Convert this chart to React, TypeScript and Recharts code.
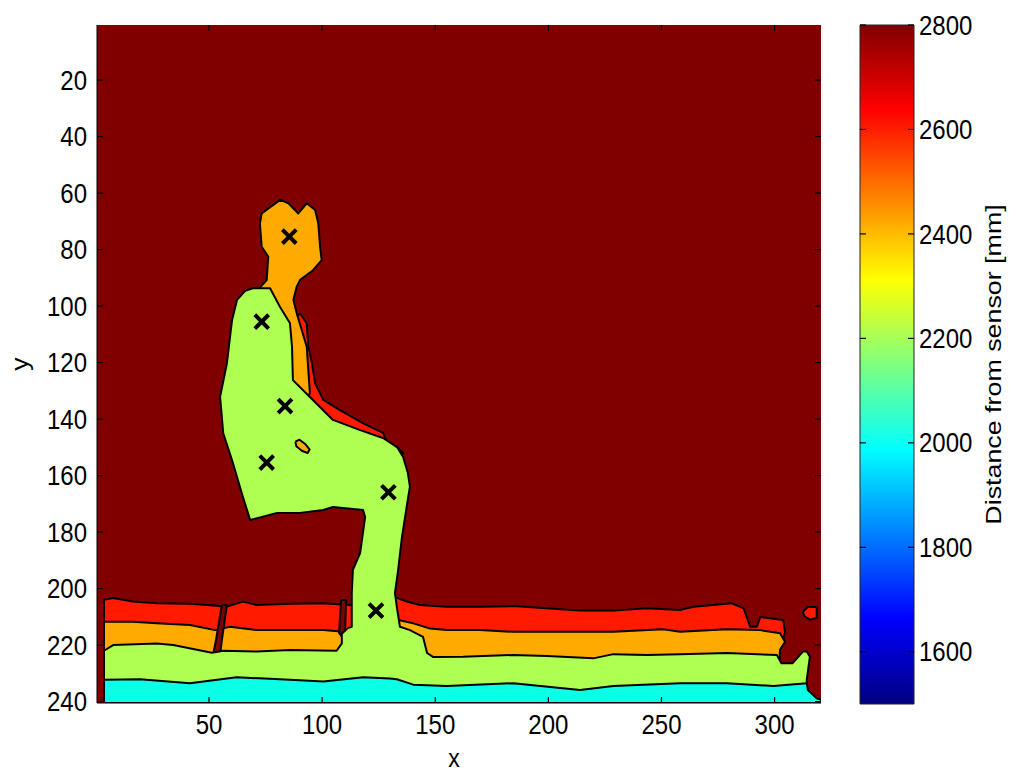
import React from 'react';
import { ComposedChart, Scatter, XAxis, YAxis, CartesianGrid, BarChart, Bar } from 'recharts';

type Pt = [number, number];

const FONT = '"Liberation Sans", Arial, Helvetica, sans-serif';

const DARK = '#800000';
const RED = '#ff1a00';
const ORANGE = '#ffaa00';
const GREEN = '#aeff51';
const CYAN = '#0affe6';

const xTicks = [50, 100, 150, 200, 250, 300];
const yTicks = [20, 40, 60, 80, 100, 120, 140, 160, 180, 200, 220, 240];
const xDomain = [0.5, 320.5];
const yDomain = [0.5, 240.5];

const cbTicks = [1600, 1800, 2000, 2200, 2400, 2600, 2800];
const cbRange = [1500, 2800];
const cbData = [{ name: 'depth', span: [1500, 2800] }];

// floor bands: top contour of each depth level, filled down to the frame bottom
const bandRed: Pt[] = [
  [3.6, 240.5], [3.6, 204.0], [7.6, 203.3], [16.4, 204.6], [26.9, 205.2], [41.6, 205.4],
  [54.9, 206.2], [57.8, 206.4], [65.0, 204.6], [71.1, 205.8], [85.8, 205.4], [100.5, 205.2],
  [112.3, 205.8], [133.0, 203.3], [137.4, 204.6], [143.3, 205.8], [155.1, 206.4], [169.8, 206.4],
  [184.5, 206.2], [199.3, 207.0], [214.0, 207.8], [228.7, 207.8], [243.5, 207.0], [258.2, 207.6],
  [264.1, 206.4], [281.1, 205.2], [286.3, 207.0], [289.2, 213.5], [292.2, 213.5], [293.6, 210.1],
  [303.8, 211.1], [304.6, 215.4], [302.4, 221.7], [301.0, 240.5],
];

const bandOrange: Pt[] = [
  [3.6, 240.5], [3.6, 211.7], [16.4, 211.7], [26.9, 212.3], [41.6, 212.9], [52.7, 214.7],
  [59.3, 213.5], [71.1, 214.7], [85.8, 214.7], [100.5, 214.7], [109.4, 215.3], [133.7, 211.1],
  [140.3, 212.3], [147.7, 214.1], [155.1, 214.7], [169.8, 214.7], [184.5, 215.3], [199.3, 215.3],
  [214.0, 215.3], [228.7, 215.3], [250.8, 214.4], [258.2, 215.3], [278.9, 214.4], [293.6, 214.7],
  [302.4, 215.8], [304.6, 218.8], [302.4, 221.7], [301.0, 240.5],
];

// chair legs cutting through the floor bands
const chairLegA: Pt[] = [[55.7, 205.8], [57.9, 205.8], [55.7, 218.2], [54.9, 223.5], [51.8, 223.5], [53.1, 218.2]];
const chairLegB: Pt[] = [[108.4, 204.0], [110.6, 204.0], [110.1, 215.7], [108.8, 217.1], [107.5, 215.7]];

// person: back (furthest), head/neck, then body + legs joined to the floor level
const backRed: Pt[] = [
  [90.2, 102.6], [93.2, 106.1], [93.9, 114.4], [95.4, 119.7], [96.9, 127.3], [100.5, 133.2],
  [107.9, 136.8], [118.2, 141.5], [127.1, 145.0], [128.5, 148.6], [133.0, 149.8], [135.9, 152.1],
  [130.0, 156.0], [110.0, 150.0], [92.0, 136.0], [88.0, 110.0], [88.5, 104.0],
];

const headOrange: Pt[] = [
  [73.3, 67.2], [81.4, 62.4], [85.1, 63.6], [89.5, 67.2], [93.2, 63.6], [96.9, 66.0], [98.3, 70.7],
  [99.1, 79.0], [99.8, 83.7], [96.1, 87.2], [90.2, 90.8], [88.8, 93.1], [87.3, 97.8], [88.8, 102.6],
  [93.2, 114.4], [94.6, 130.9], [90.0, 135.0], [80.0, 120.0], [70.0, 96.0], [72.9, 93.1],
  [75.5, 90.8], [76.2, 82.5], [73.3, 79.0], [72.5, 70.7],
];

const bodyGreen: Pt[] = [
  [3.6, 240.5], [3.6, 222.0], [7.6, 220.0], [26.9, 219.4], [34.2, 220.0], [51.3, 222.7],
  [56.3, 222.0], [71.1, 222.3], [85.8, 221.7], [106.4, 222.0], [108.7, 219.4], [108.7, 216.0],
  [111.4, 214.0], [113.1, 213.5], [113.1, 201.6], [113.6, 193.4], [116.8, 187.4], [119.0, 174.7],
  [118.1, 172.2], [104.8, 171.1], [100.5, 172.2], [90.2, 173.2], [80.1, 173.2], [68.2, 175.7],
  [65.0, 167.6], [60.6, 155.6], [56.3, 145.0], [54.9, 132.1], [57.9, 120.3], [60.2, 104.9],
  [62.4, 97.8], [66.0, 94.6], [69.4, 93.7], [77.0, 93.7], [81.4, 100.3], [85.8, 106.1], [86.7, 114.5],
  [87.1, 126.2], [94.6, 132.2], [104.8, 140.3], [116.8, 143.9], [126.9, 146.7], [133.1, 149.9],
  [135.8, 153.4], [137.9, 159.1], [138.8, 163.9], [137.5, 170.4], [135.3, 181.7], [133.6, 193.4],
  [132.2, 201.6], [133.0, 206.4], [134.4, 213.5], [138.8, 214.7], [144.6, 217.1], [146.4, 222.8],
  [149.0, 224.2], [162.4, 224.1], [184.5, 223.5], [199.3, 223.9], [219.9, 224.7], [228.7, 223.2],
  [243.5, 223.5], [258.2, 223.2], [278.9, 222.8], [301.0, 223.5], [303.0, 226.4], [308.0, 226.4],
  [312.5, 222.3], [314.2, 222.3], [315.6, 224.1], [314.2, 232.3], [314.2, 240.5],
];

const spotOrange: Pt[] = [[88.2, 148.0], [90.0, 147.3], [92.5, 148.8], [94.5, 150.8], [93.6, 152.0], [91.0, 151.2], [88.6, 149.6]];

const bandCyan: Pt[] = [
  [3.6, 240.5], [3.6, 232.3], [19.5, 232.1], [41.6, 233.5], [62.2, 231.4], [85.8, 232.3],
  [100.5, 232.9], [118.2, 231.4], [130.0, 231.8], [133.0, 232.1], [140.3, 234.0], [155.1, 234.5],
  [184.5, 233.5], [214.0, 235.9], [228.7, 234.5], [258.2, 233.5], [278.9, 233.5], [299.5, 234.5],
  [314.2, 233.5], [314.7, 235.9], [318.6, 238.8], [320.5, 239.3], [320.5, 240.5],
];

const blobRed: Pt[] = [[312.5, 208.2], [314.7, 206.5], [318.6, 206.5], [318.6, 210.4], [315.6, 211.0], [313.2, 209.8]];

const joints: Pt[] = [[85.5, 75.4], [73.3, 105.5], [83.6, 135.4], [75.5, 155.4], [129.3, 165.9], [123.8, 207.8]];

const regions = [
  { key: 'band-red', fill: RED, pts: bandRed },
  { key: 'band-orange', fill: ORANGE, pts: bandOrange },
  { key: 'chair-a', fill: DARK, pts: chairLegA },
  { key: 'chair-b', fill: DARK, pts: chairLegB },
  { key: 'back-red', fill: RED, pts: backRed },
  { key: 'head-orange', fill: ORANGE, pts: headOrange },
  { key: 'body-green', fill: GREEN, pts: bodyGreen },
  { key: 'spot-orange', fill: ORANGE, pts: spotOrange },
  { key: 'band-cyan', fill: CYAN, pts: bandCyan },
  { key: 'blob-red', fill: RED, pts: blobRed },
];

const jetStops = [
  { offset: '0%', color: '#800000' },
  { offset: '12.5%', color: '#ff0000' },
  { offset: '37.5%', color: '#ffff00' },
  { offset: '62.5%', color: '#00ffff' },
  { offset: '87.5%', color: '#0000ff' },
  { offset: '100%', color: '#000080' },
];

const MARGIN = { top: 25, right: 203, bottom: 0, left: 0 };
const CB_MARGIN = { top: 25, right: 30, bottom: 77, left: 20 };
const CB_PLOT_MARGIN = { top: 25, right: 110, bottom: 77, left: 20 };

const closed = (poly: Pt[]) => [...poly, poly[0]].map(([x, y]) => ({ x, y }));
const jointPoints = joints.map(([x, y]) => ({ x, y }));

// tick positions on each side of the box (inward MATLAB style ticks)
const ticksBottom = xTicks.map((x) => ({ x, y: yDomain[1] }));
const ticksTop = xTicks.map((x) => ({ x, y: yDomain[0] }));
const ticksLeft = yTicks.map((y) => ({ x: xDomain[0], y }));
const ticksRight = yTicks.map((y) => ({ x: xDomain[1], y }));
const cbTicksLeft = cbTicks.map((v) => ({ x: 0, v }));
const cbTicksRight = cbTicks.map((v) => ({ x: 1, v }));

const NoDot = () => <g />;

const tickMark = (dx: number, dy: number) => ({ cx, cy }: any) => (
  <line x1={cx} y1={cy} x2={cx + dx} y2={cy + dy} stroke="#000" strokeWidth={1.2} />
);
const markUp = tickMark(0, -6);
const markDown = tickMark(0, 6);
const markRight = tickMark(6, 0);
const markLeft = tickMark(-6, 0);

const Cross = ({ cx, cy }: any) => (
  <g stroke="#000" strokeWidth={4} strokeLinecap="square">
    <line x1={cx - 5.5} y1={cy - 5.5} x2={cx + 5.5} y2={cy + 5.5} />
    <line x1={cx - 5.5} y1={cy + 5.5} x2={cx + 5.5} y2={cy - 5.5} />
  </g>
);

const tickText = (x: number, y: number, anchor: string, value: any) => (
  <text
    transform={`translate(${x},${y}) scale(1,1.16)`}
    textAnchor={anchor}
    dominantBaseline="central"
    fontSize={24}
    fontFamily={FONT}
    fill="#000"
  >
    {value}
  </text>
);

const XTick = ({ x, y, payload }: any) => tickText(x, y, 'middle', payload.value);
const YTick = ({ x, y, payload }: any) => tickText(x, y, 'end', payload.value);
const CbTick = ({ x, y, payload }: any) => tickText(x, y, 'start', payload.value);

const renderXLabel = ({ viewBox }: any) => (
  <text
    transform={`translate(${viewBox.x + viewBox.width / 2 - 5},${viewBox.y + 64}) scale(1,1.16)`}
    textAnchor="middle"
    fontSize={23}
    fontFamily={FONT}
    fill="#000"
  >
    x
  </text>
);

const renderYLabel = ({ viewBox }: any) => (
  <text
    transform={`translate(28,${viewBox.y + viewBox.height / 2}) scale(1,1.16) rotate(-90)`}
    textAnchor="middle"
    fontSize={23}
    fontFamily={FONT}
    fill="#000"
  >
    y
  </text>
);

const renderCbLabel = ({ viewBox }: any) => (
  <text
    transform={`translate(${viewBox.x + 87},${viewBox.y + viewBox.height / 2}) scale(1,1.22) rotate(-90)`}
    textAnchor="middle"
    fontSize={22}
    fontFamily={FONT}
    fill="#000"
  >
    Distance from sensor [mm]
  </text>
);

export default function App() {
  return (
    <div style={{ position: 'absolute', left: 0, top: 0, width: 1024, height: 781, background: '#fff' }}>
      {/* depth image */}
      <div style={{ position: 'absolute', left: 0, top: 0 }}>
        <ComposedChart width={1024} height={781} margin={MARGIN}>
          <CartesianGrid fill={DARK} fillOpacity={1} horizontal={false} vertical={false} />
          {regions.map((r) => (
            <Scatter
              key={r.key}
              data={closed(r.pts)}
              fill={r.fill}
              shape={<NoDot />}
              line={{ fill: r.fill, stroke: '#000', strokeWidth: 2, strokeLinejoin: 'round' }}
              lineType="joint"
              lineJointType="linear"
              isAnimationActive={false}
            />
          ))}
          <XAxis
            type="number"
            dataKey="x"
            domain={xDomain}
            ticks={xTicks}
            interval={0}
            allowDataOverflow
            height={78}
            tickSize={-6}
            tickMargin={27}
            tickLine={false}
            axisLine={false}
            tick={<XTick />}
            label={{ content: renderXLabel }}
          />
          <YAxis
            type="number"
            dataKey="y"
            domain={yDomain}
            reversed
            ticks={yTicks}
            interval={0}
            allowDataOverflow
            width={97}
            tickSize={-6}
            tickMargin={16}
            tickLine={false}
            axisLine={false}
            tick={<YTick />}
            label={{ content: renderYLabel }}
          />
        </ComposedChart>
      </div>
      {/* joint markers + box with inward ticks, above the image */}
      <div style={{ position: 'absolute', left: 0, top: 0 }}>
        <ComposedChart width={1024} height={781} margin={MARGIN}>
          <Scatter xAxisId="b" yAxisId="l" data={jointPoints} fill="#000" shape={<Cross />} isAnimationActive={false} />
          <Scatter xAxisId="b" yAxisId="l" data={ticksBottom} fill="#000" shape={markUp} isAnimationActive={false} />
          <Scatter xAxisId="b" yAxisId="l" data={ticksTop} fill="#000" shape={markDown} isAnimationActive={false} />
          <Scatter xAxisId="b" yAxisId="l" data={ticksLeft} fill="#000" shape={markRight} isAnimationActive={false} />
          <Scatter xAxisId="b" yAxisId="l" data={ticksRight} fill="#000" shape={markLeft} isAnimationActive={false} />
          <XAxis xAxisId="b" dataKey="x" type="number" domain={xDomain} ticks={xTicks} allowDataOverflow height={78} tick={false} tickLine={false} stroke="#000" />
          <XAxis xAxisId="t" dataKey="x" orientation="top" type="number" domain={xDomain} ticks={xTicks} allowDataOverflow height={0} tick={false} tickLine={false} stroke="#000" />
          <YAxis yAxisId="l" dataKey="y" type="number" domain={yDomain} reversed ticks={yTicks} allowDataOverflow width={97} tick={false} tickLine={false} stroke="#000" />
          <YAxis yAxisId="r" dataKey="y" orientation="right" type="number" domain={yDomain} reversed ticks={yTicks} allowDataOverflow width={0} tick={false} tickLine={false} stroke="#000" />
        </ComposedChart>
      </div>
      {/* colour bar */}
      <div style={{ position: 'absolute', left: 840, top: 0 }}>
        <BarChart width={184} height={781} data={cbData} margin={CB_MARGIN} barCategoryGap={0}>
          <defs>
            <linearGradient id="jetFill" x1="0" y1="0" x2="0" y2="1">
              {jetStops.map((s) => (
                <stop key={s.offset} offset={s.offset} stopColor={s.color} />
              ))}
            </linearGradient>
          </defs>
          <Bar yAxisId="r" dataKey="span" fill="url(#jetFill)" stroke="#222" strokeWidth={1} isAnimationActive={false} />
          <XAxis dataKey="name" hide />
          <YAxis
            yAxisId="r"
            orientation="right"
            type="number"
            domain={cbRange}
            ticks={cbTicks}
            interval={0}
            width={80}
            tickSize={-6}
            tickMargin={11}
            tickLine={false}
            axisLine={false}
            tick={<CbTick />}
            label={{ content: renderCbLabel }}
          />
        </BarChart>
      </div>
      <div style={{ position: 'absolute', left: 840, top: 0 }}>
        <ComposedChart width={184} height={781} margin={CB_PLOT_MARGIN}>
          <Scatter data={cbTicksLeft} dataKey="v" fill="#000" shape={markRight} isAnimationActive={false} />
          <Scatter data={cbTicksRight} dataKey="v" fill="#000" shape={markLeft} isAnimationActive={false} />
          <XAxis type="number" dataKey="x" domain={[0, 1]} hide />
          <YAxis type="number" dataKey="v" domain={cbRange} hide />
        </ComposedChart>
      </div>
    </div>
  );
}
